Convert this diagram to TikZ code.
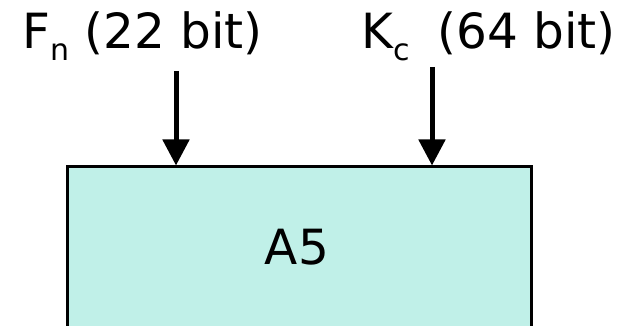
\documentclass[tikz,border=0pt]{standalone}
\usepackage{fontspec}
\setmainfont{DejaVu Sans}
\usetikzlibrary{arrows.meta}
\definecolor{cipherfill}{RGB}{192,240,232}
\tikzset{
  label text/.style={inner sep=0pt, anchor=base west, font=\fontsize{48.5}{56}\selectfont},
  cipherbox/.style={draw=black, line width=3pt, fill=cipherfill, inner sep=0pt,
    minimum width=464pt, minimum height=220pt},
  inarrow/.style={line width=5pt, -{Triangle[width=26pt,length=26pt]}},
}
\newcommand{\subtxt}[1]{\raisebox{-12pt}{\fontsize{30}{32}\selectfont #1}}
\begin{document}
\begin{tikzpicture}[x=1pt,y=1pt]
  \useasboundingbox (0,0) rectangle (625,-326);
  \clip (0,0) rectangle (625,-326);
  % input labels
  \node[label text] (fn) at (22,-49) {F\subtxt{n} (22 bit)};
  \node[label text] (kc) at (361,-49) {K\subtxt{c}\hspace{28pt}(64 bit)};
  % the A5 block
  \node[cipherbox] (a5) at (299,-277) {};
  \node[label text, anchor=base] (a5label) at (297,-265) {A5};
  % arrow start points
  \coordinate (fnsrc) at (176,-71);
  \coordinate (kcsrc) at (432,-67);
  \draw[inarrow] (fnsrc) -- (fnsrc |- a5.north);
  \draw[inarrow] (kcsrc) -- (kcsrc |- a5.north);
\end{tikzpicture}
\end{document}
